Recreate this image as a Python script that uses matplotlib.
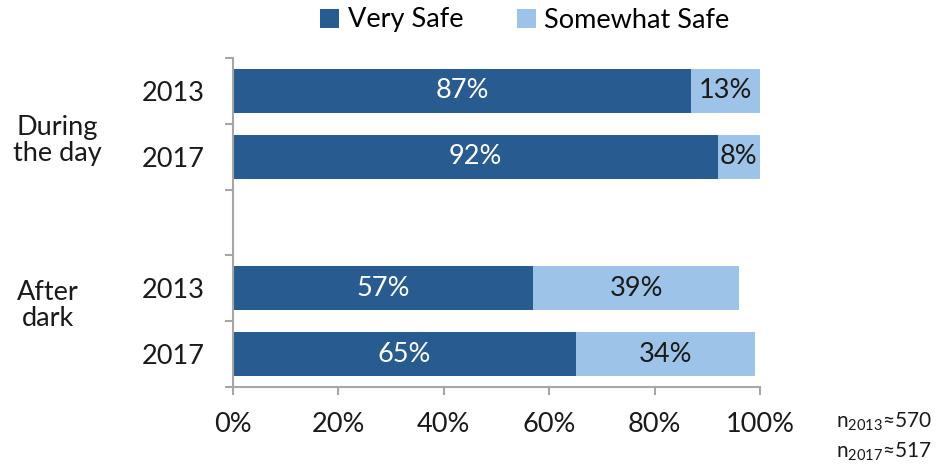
import matplotlib
matplotlib.use("Agg")
import matplotlib.pyplot as plt
from matplotlib.ticker import FixedLocator, PercentFormatter

plt.rcParams['font.family'] = ['Lato', 'DejaVu Sans']
plt.rcParams['mathtext.fontset'] = 'custom'
plt.rcParams['mathtext.rm'] = 'Lato'

years = ["2013", "2017", "2013", "2017"]
groups = ["During\nthe day", "After\ndark"]
very_safe = [87, 92, 57, 65]
somewhat_safe = [13, 8, 39, 34]
series_names = ["Very Safe", "Somewhat Safe"]
x_ticks = [0, 20, 40, 60, 80, 100]
sample_notes = [r"n$_{\mathregular{2013}}$≈570", r"n$_{\mathregular{2017}}$≈517"]

dark = "#285B8F"
light = "#9DC3E8"
axis_gray = "#A6A6A6"
fs = 19.5

fig = plt.figure(figsize=(9.48, 4.66), dpi=100)
ax = fig.add_axes([233/948, 1-387/466, (760-233)/948, (387-58)/466])

ypos = [0, 1, 3, 4]
h = 0.67
b1 = ax.barh(ypos, very_safe, height=h, color=dark, label=series_names[0])
b2 = ax.barh(ypos, somewhat_safe, left=very_safe, height=h, color=light, label=series_names[1])

for y, v, s in zip(ypos, very_safe, somewhat_safe):
    ax.text(v/2, y, f"{v}%", ha="center", va="center", color="white", fontsize=fs)
    ax.text(v + s/2, y, f"{s}%", ha="center", va="center", color="#1a1a1a", fontsize=fs)

ax.set_xlim(0, 100)
ax.set_ylim(4.5, -0.5)
ax.xaxis.set_major_locator(FixedLocator(x_ticks))
ax.xaxis.set_major_formatter(PercentFormatter(decimals=0))
ax.set_yticks(ypos)
ax.set_yticklabels(years)
ax.yaxis.set_minor_locator(FixedLocator([-0.5, 0.5, 1.5, 2.5, 3.5, 4.5]))
ax.tick_params(axis="y", which="major", length=0, pad=20, labelsize=fs, labelcolor="#1a1a1a")
ax.tick_params(axis="y", which="minor", length=6, width=1.5, color=axis_gray)
ax.tick_params(axis="x", which="major", length=6, width=1.5, color=axis_gray, pad=12,
               labelsize=fs, labelcolor="#1a1a1a")
for sp in ["top", "right"]:
    ax.spines[sp].set_visible(False)
for sp in ["left", "bottom"]:
    ax.spines[sp].set_color(axis_gray)
    ax.spines[sp].set_linewidth(1.5)

fig.text(57/948, 1-141/466, groups[0], ha="center", va="center", fontsize=fs,
         color="#1a1a1a", linespacing=1.05)
fig.text(48/948, 1-306/466, groups[1], ha="center", va="center", fontsize=fs,
         color="#1a1a1a", linespacing=1.05)

fig.text(932/948, 1-422/466, sample_notes[0], ha="right", va="center", fontsize=15, color="#1a1a1a")
fig.text(932/948, 1-452/466, sample_notes[1], ha="right", va="center", fontsize=15, color="#1a1a1a")

fig.legend(handles=[b1, b2], loc="center", bbox_to_anchor=(525/948, 1-20/466), ncol=2,
           frameon=False, fontsize=fs, handlelength=0.7, handleheight=0.7,
           handletextpad=0.3, columnspacing=2.0, borderaxespad=0)

fig.savefig("out.png", dpi=100)
